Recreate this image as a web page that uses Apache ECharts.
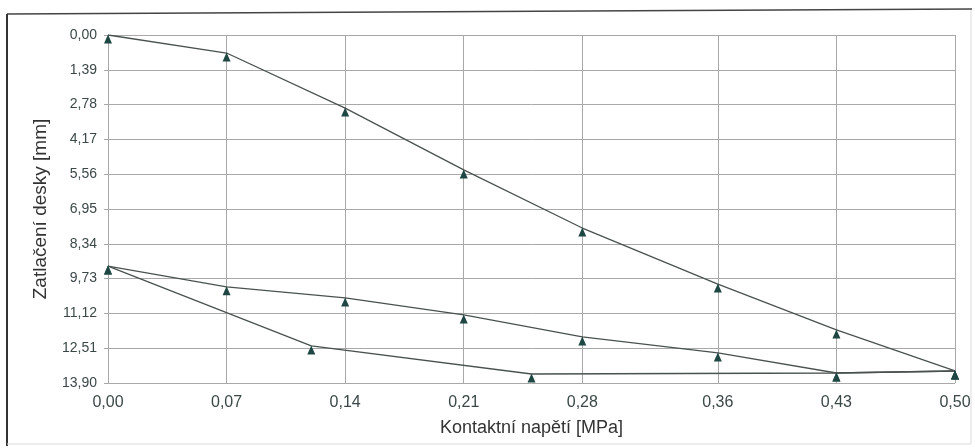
<!DOCTYPE html>
<html>
<head>
<meta charset="utf-8">
<script src="https://cdn.jsdelivr.net/npm/echarts@6/dist/echarts.min.js"></script>
<style>
html,body{margin:0;padding:0;background:#fff;}
#c{width:975px;height:448px;}
</style>
</head>
<body>
<div id="c"></div>
<script>
// Tick positions and labels
const xTicks = [0, 0.07, 0.14, 0.21, 0.28, 0.36, 0.43, 0.50];
const xTickLabels = ['0,00', '0,07', '0,14', '0,21', '0,28', '0,36', '0,43', '0,50'];
const yTicks = [0, 1.39, 2.78, 4.17, 5.56, 6.95, 8.34, 9.73, 11.12, 12.51, 13.90];
const yTickLabels = ['0,00', '1,39', '2,78', '4,17', '5,56', '6,95', '8,34', '9,73', '11,12', '12,51', '13,90'];

// Loading
const loadX = [0.00, 0.07, 0.14, 0.21, 0.28, 0.36, 0.43, 0.50];
const loadY = [0.00, 0.72, 2.92, 5.39, 7.71, 9.95, 11.78, 13.42];
// Unloading
const unloadX = [0.50, 0.43, 0.25, 0.12, 0.00];
const unloadY = [13.42, 13.50, 13.54, 12.42, 9.23];
// Reloading
const reloadX = [0.00, 0.07, 0.14, 0.21, 0.28, 0.36, 0.43, 0.50];
const reloadY = [9.23, 10.06, 10.50, 11.18, 12.06, 12.70, 13.50, 13.42];

const pair = (xs, ys) => xs.map((x, i) => [x, ys[i]]);
const fmt = v => v.toFixed(2).replace('.', ',');

const lineColor = '#4a5250';
const markColor = '#1e4744';
const gridColor = '#a8a8a8';
const labelColor = '#3c4848';

function mkSeries(name, data, extra) {
  return Object.assign({
    name: name,
    type: 'line',
    data: data,
    smooth: false,
    symbol: 'triangle',
    symbolSize: [8, 9],
    symbolOffset: [0, 4],
    showSymbol: true,
    lineStyle: { color: lineColor, width: 1.3 },
    itemStyle: { color: markColor },
    z: 3,
    animation: false
  }, extra || {});
}

const chart = echarts.init(document.getElementById('c'));
chart.setOption({
  backgroundColor: '#fff',
  animation: false,
  graphic: [
    { type: 'line', shape: { x1: 7, y1: 14, x2: 972, y2: 9 }, style: { stroke: '#444', lineWidth: 1.5 } },
    { type: 'line', shape: { x1: 7, y1: 14, x2: 7, y2: 446 }, style: { stroke: '#333', lineWidth: 2 } },
    { type: 'line', shape: { x1: 971, y1: 10, x2: 971, y2: 444 }, style: { stroke: '#dcdcdc', lineWidth: 1 } },
    { type: 'line', shape: { x1: 7, y1: 444, x2: 971, y2: 444 }, style: { stroke: '#dcdcdc', lineWidth: 1 } }
  ],
  grid: { left: 108, right: 20, top: 35, bottom: 65, containLabel: false },
  xAxis: {
    type: 'value',
    min: 0,
    max: 0.5,
    name: 'Kontaktní napětí [MPa]',
    nameLocation: 'middle',
    nameGap: 36,
    nameTextStyle: { fontFamily: 'Liberation Sans', fontSize: 18, color: '#333' },
    axisLine: { show: true, lineStyle: { color: gridColor, width: 1 } },
    axisTick: { show: false, customValues: xTicks },
    axisLabel: {
      customValues: xTicks,
      formatter: function (v) {
        const i = xTicks.findIndex(t => Math.abs(t - v) < 1e-6);
        return i >= 0 ? xTickLabels[i] : '';
      },
      fontFamily: 'Liberation Sans', fontSize: 16, color: labelColor, margin: 12
    },
    splitLine: { show: false }
  },
  yAxis: {
    type: 'value',
    inverse: true,
    min: 0,
    max: 13.9,
    name: 'Zatlačení desky [mm]',
    nameLocation: 'middle',
    nameGap: 58,
    nameTextStyle: { fontFamily: 'Liberation Sans', fontSize: 19, color: '#333' },
    axisLine: { show: true, lineStyle: { color: gridColor, width: 1 } },
    axisTick: { show: true, length: 4, customValues: yTicks, lineStyle: { color: gridColor } },
    axisLabel: {
      customValues: yTicks,
      formatter: function (v) {
        const i = yTicks.findIndex(t => Math.abs(t - v) < 1e-6);
        return i >= 0 ? yTickLabels[i] : fmt(v);
      },
      fontFamily: 'Liberation Sans', fontSize: 14, color: labelColor, margin: 11
    },
    splitLine: { show: false }
  },
  series: [
    mkSeries('Zatížení', pair(loadX, loadY), {
      markLine: {
        silent: true,
        symbol: 'none',
        label: { show: false },
        lineStyle: { color: gridColor, width: 1, type: 'solid' },
        data: xTicks.map(v => ({ xAxis: v })).concat(yTicks.map(v => ({ yAxis: v }))),
        z: 1,
        animation: false
      }
    }),
    mkSeries('Odlehčení', pair(unloadX, unloadY)),
    mkSeries('Opětovné zatížení', pair(reloadX, reloadY))
  ]
});
</script>
</body>
</html>
